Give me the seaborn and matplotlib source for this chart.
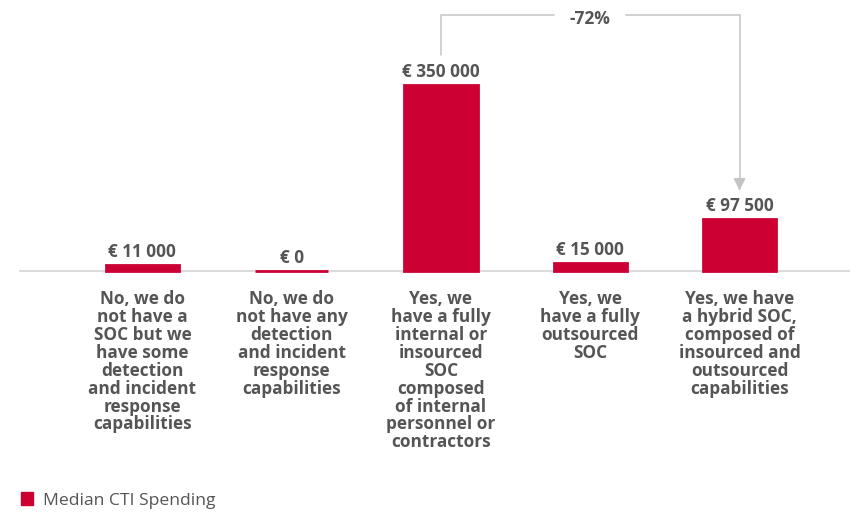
import pandas as pd
import seaborn as sns
from matplotlib import pyplot as plt

categories = [
    "No, we do\nnot have a\nSOC but we\nhave some\ndetection\nand incident\nresponse\ncapabilities",
    "No, we do\nnot have any\ndetection\nand incident\nresponse\ncapabilities",
    "Yes, we\nhave a fully\ninternal or\ninsourced\nSOC\ncomposed\nof internal\npersonnel or\ncontractors",
    "Yes, we\nhave a fully\noutsourced\nSOC",
    "Yes, we have\na hybrid SOC,\ncomposed of\ninsourced and\noutsourced\ncapabilities",
]
values = [11000, 0, 350000, 15000, 97500]
value_labels = ["€ 11 000", "€ 0", "€ 350 000", "€ 15 000", "€ 97 500"]
series_name = "Median CTI Spending"
change_label = "-72%"

red = "#cc0033"
text_grey = "#555555"

sns.set_theme(style="white")
plt.rcParams['font.family'] = ['Open Sans', 'DejaVu Sans']

df = pd.DataFrame({"category": categories, "value": values, "series": series_name})

fig = plt.figure(figsize=(8.5, 5.13), dpi=100)
ax = fig.add_axes([20 / 850, 1 - 271 / 513, 830 / 850, 271 / 513])

sns.barplot(data=df, x="category", y="value", hue="series", palette=[red],
            width=0.49, saturation=1, edgecolor=red, linewidth=2, ax=ax, legend=False)
for p in ax.patches:
    p.set_clip_on(False)

ax.set_xlim(-0.82, 4.74)
ax.set_ylim(0, 510000)
for s in ["top", "right", "left"]:
    ax.spines[s].set_visible(False)
ax.spines["bottom"].set_color("#d4d4d4")
ax.spines["bottom"].set_linewidth(1.2)
ax.spines["bottom"].set_zorder(0.5)
ax.set_yticks([])
ax.set_xlabel("")
ax.set_ylabel("")
ax.tick_params(axis="x", length=0, pad=14)
ax.set_xticks(range(len(categories)))
ax.set_xticklabels(categories, fontsize=12.4, fontweight="bold", color=text_grey,
                   linespacing=0.99, va="top")

# value labels above bars
for i, (v, lab) in enumerate(zip(values, value_labels)):
    ax.annotate(lab, (i, v), xytext=(0, 3), textcoords="offset points",
                ha="center", va="bottom", fontsize=12.3, fontweight="bold", color=text_grey)

# bracket showing the change from bar 3 to bar 5
i0, i1 = 2, 4
top = max(values) * 1.375
line_col = "#c4c4c4"
ax.plot([i0, i0, 2.76], [values[i0] * 1.16, top, top], color=line_col, lw=1.1, clip_on=False)
ax.plot([3.24, i1, i1], [top, top, values[i1] * 1.62], color=line_col, lw=1.1, clip_on=False)
ax.annotate("", xy=(i1, values[i1] * 1.5), xytext=(i1, values[i1] * 1.66),
            arrowprops=dict(arrowstyle="-|>,head_width=0.3,head_length=0.6",
                            color=line_col, lw=1.1), annotation_clip=False)
ax.text((i0 + i1) / 2, top * 0.985, change_label, ha="center", va="center", fontsize=12.5,
        fontweight="bold", color=text_grey)

# legend
handle = plt.Rectangle((0, 0), 1, 1, color=red)
fig.legend([handle], [series_name], loc="lower left", bbox_to_anchor=(0.006, -0.022),
           frameon=False, fontsize=12.6, handlelength=0.7, handleheight=0.7,
           handletextpad=0.55, labelcolor=text_grey)

fig.savefig("out.png", dpi=100)
